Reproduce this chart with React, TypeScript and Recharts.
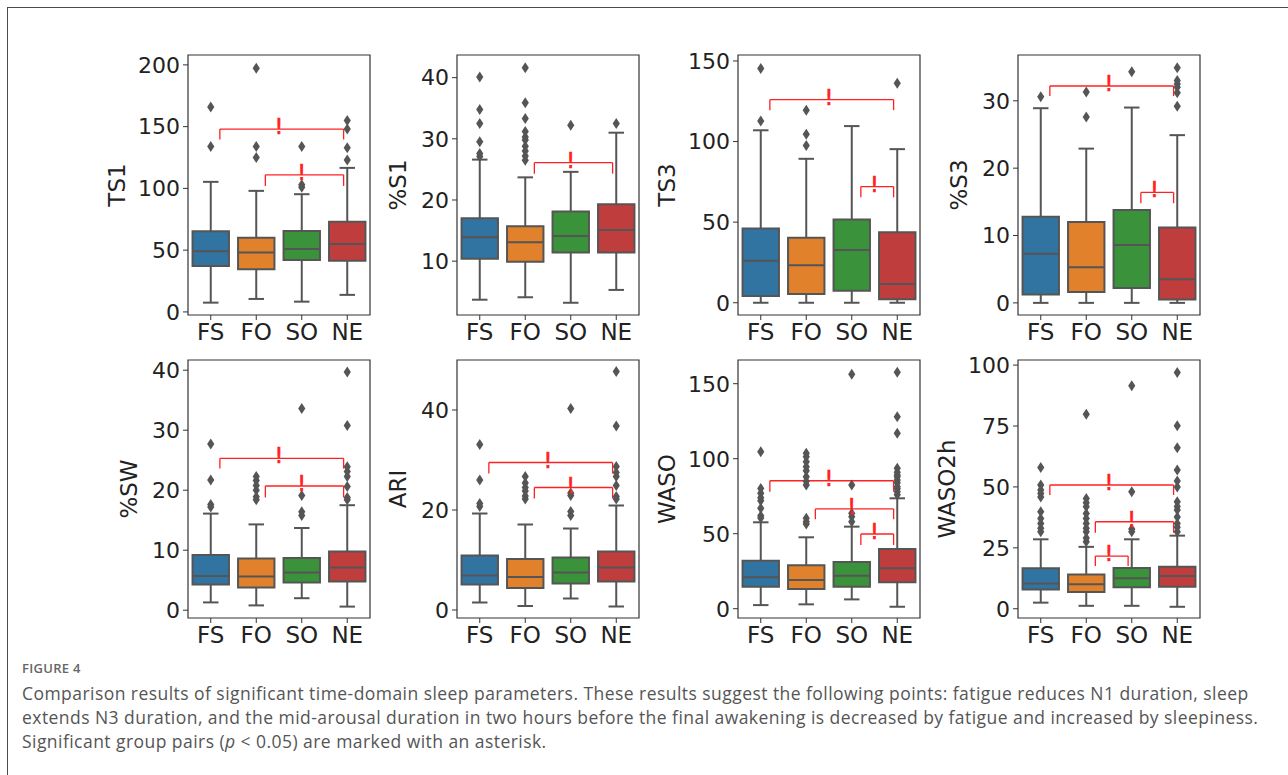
import { ReferenceArea, ReferenceLine, Scatter, ScatterChart, XAxis, YAxis } from "recharts";

const groups = ["FS", "FO", "SO", "NE"];
const groupColors = ["#3274a1", "#e1812c", "#3a923a", "#c03d3e"];

type Bracket = { from: number; to: number; y: number; drop: number };

// stats per group: [whisker low, q1, median, q3, whisker high]
const ts1Ticks = [0, 50, 100, 150, 200];
const ts1Domain: [number, number] = [-2.5, 208];
const ts1Stats = [
  [7.5, 37.2, 49.1, 65.3, 105.3],
  [10.5, 34.5, 48, 60, 98],
  [8.3, 42, 51, 65.6, 95.3],
  [13.8, 41.5, 55, 73, 116.6],
];
const ts1Outliers = [[133.9, 166], [125, 134, 197.3], [101, 103, 134], [123, 133, 148, 155]];
const ts1Brackets: Bracket[] = [
  { from: 0, to: 3, y: 148, drop: 8.4 },
  { from: 1, to: 3, y: 111, drop: 9 },
];

const s1Ticks = [10, 20, 30, 40];
const s1Domain: [number, number] = [1.2, 43.7];
const s1Stats = [
  [3.7, 10.4, 13.9, 17.0, 26.6],
  [4.1, 9.9, 13.1, 15.7, 23.7],
  [3.2, 11.4, 14.1, 18.1, 24.6],
  [5.3, 11.4, 15.1, 19.3, 31.0],
];
const s1Outliers = [
  [27.1, 27.6, 29.5, 32.5, 34.8, 40.1],
  [26.5, 27.2, 28.0, 28.8, 29.8, 30.3, 31.2, 33.3, 35.9, 41.6],
  [32.2],
  [32.5],
];
const s1Brackets: Bracket[] = [{ from: 1, to: 3, y: 26.1, drop: 1.8 }];

const ts3Ticks = [0, 50, 100, 150];
const ts3Domain: [number, number] = [-7.6, 153.7];
const ts3Stats = [
  [0, 4.2, 26.1, 46.1, 107],
  [0, 5.4, 23.2, 40.3, 89.3],
  [0, 7.4, 32.7, 51.7, 109.6],
  [0, 2.1, 11.6, 43.7, 95.3],
];
const ts3Outliers = [[112.7, 145.4], [97.6, 104.6, 119.5], [], [136.1]];
const ts3Brackets: Bracket[] = [
  { from: 0, to: 3, y: 126, drop: 6.5 },
  { from: 2, to: 3, y: 72.1, drop: 6.7 },
];

const s3Ticks = [0, 10, 20, 30];
const s3Domain: [number, number] = [-1.8, 36.8];
const s3Stats = [
  [0, 1.25, 7.3, 12.8, 28.9],
  [0, 1.6, 5.3, 12.0, 22.9],
  [0, 2.2, 8.6, 13.8, 29.0],
  [0, 0.5, 3.5, 11.2, 24.9],
];
const s3Outliers = [[30.6], [27.6, 31.3], [34.3], [29.2, 31.2, 32.0, 32.5, 33.0, 34.9]];
const s3Brackets: Bracket[] = [
  { from: 0, to: 3, y: 32.2, drop: 1.5 },
  { from: 2, to: 3, y: 16.4, drop: 1.6 },
];

const swTicks = [0, 10, 20, 30, 40];
const swDomain: [number, number] = [-1.3, 41.7];
const swStats = [
  [1.3, 4.3, 5.7, 9.2, 16.1],
  [0.8, 3.8, 5.6, 8.6, 14.3],
  [2.0, 4.6, 6.3, 8.7, 13.7],
  [0.6, 4.8, 7.1, 9.8, 17.5],
];
const swOutliers = [
  [17.2, 17.6, 21.7, 27.7],
  [18.4, 18.9, 20.0, 20.8, 21.6, 22.3],
  [15.8, 16.4, 19.1, 33.6],
  [18.4, 18.8, 20.6, 22.3, 23.1, 23.9, 30.8, 39.7],
];
const swBrackets: Bracket[] = [
  { from: 0, to: 3, y: 25.3, drop: 1.7 },
  { from: 1, to: 3, y: 20.7, drop: 1.9 },
];

const ariTicks = [0, 20, 40];
const ariDomain: [number, number] = [-1.6, 50];
const ariStats = [
  [1.5, 5.1, 6.9, 10.9, 19.3],
  [0.8, 4.4, 6.6, 10.2, 17.1],
  [2.3, 5.3, 7.5, 10.5, 16.3],
  [0.7, 5.7, 8.5, 11.7, 20.9],
];
const ariOutliers = [
  [20.7, 21.3, 26.0, 33.1],
  [22.2, 22.8, 23.8, 24.5, 25.4, 26.7],
  [18.9, 19.7, 22.9, 23.4, 40.3],
  [22.2, 22.7, 24.9, 26.7, 27.5, 28.7, 36.8, 47.7],
];
const ariBrackets: Bracket[] = [
  { from: 0, to: 3, y: 29.5, drop: 2.2 },
  { from: 1, to: 3, y: 24.5, drop: 2.2 },
];

const wasoTicks = [0, 50, 100, 150];
const wasoDomain: [number, number] = [-6.2, 165.8];
const wasoStats = [
  [2.4, 14.7, 20.9, 32.0, 57.6],
  [2.9, 13.1, 19.1, 28.9, 47.6],
  [6.2, 14.7, 22.0, 31.1, 54.7],
  [1.3, 17.6, 26.9, 39.8, 73.6],
];
const wasoOutliers = [
  [60.5, 62, 66.9, 72, 74, 76.9, 80.2, 104.7],
  [56.5, 58, 60.3, 82.5, 85, 88, 92, 94.7, 98, 101.3, 103.6],
  [58, 61.3, 63.6, 82.5, 156.3],
  [76, 78, 80, 81.3, 84, 85.8, 88, 89.1, 91, 93.6, 116.9, 128, 157.6],
];
const wasoBrackets: Bracket[] = [
  { from: 0, to: 3, y: 85.3, drop: 7.3 },
  { from: 1, to: 3, y: 66.5, drop: 6.9 },
  { from: 2, to: 3, y: 49.8, drop: 7.3 },
];

const waso2hTicks = [0, 25, 50, 75, 100];
const waso2hDomain: [number, number] = [-3.8, 102.1];
const waso2hStats = [
  [2.5, 7.9, 10.4, 16.6, 28.5],
  [1.2, 6.9, 10.1, 14.1, 25.4],
  [1.2, 8.8, 12.5, 16.7, 28.5],
  [0.8, 9.0, 13.4, 17.2, 30],
];
const waso2hOutliers = [
  [31.6, 33, 35, 37, 39.8, 45.9, 47.3, 48.7, 50.8, 58],
  [27.5, 29, 31.6, 33, 35, 37, 39.1, 41.9, 43.5, 45.3, 79.8],
  [31.6, 32.7, 48, 91.5],
  [31.6, 33.5, 35, 37.7, 40.5, 42, 43.9, 50, 52.4, 56.9, 66.1, 75.1, 97],
];
const waso2hBrackets: Bracket[] = [
  { from: 0, to: 3, y: 50.8, drop: 4.1 },
  { from: 1, to: 3, y: 35.7, drop: 4.5 },
  { from: 1, to: 2, y: 21.6, drop: 4.1 },
];

type Panel = {
  label: string;
  ticks: number[];
  domain: [number, number];
  stats: number[][];
  outliers: number[][];
  brackets: Bracket[];
};

const panels: Panel[] = [
  { label: "TS1", ticks: ts1Ticks, domain: ts1Domain, stats: ts1Stats, outliers: ts1Outliers, brackets: ts1Brackets },
  { label: "%S1", ticks: s1Ticks, domain: s1Domain, stats: s1Stats, outliers: s1Outliers, brackets: s1Brackets },
  { label: "TS3", ticks: ts3Ticks, domain: ts3Domain, stats: ts3Stats, outliers: ts3Outliers, brackets: ts3Brackets },
  { label: "%S3", ticks: s3Ticks, domain: s3Domain, stats: s3Stats, outliers: s3Outliers, brackets: s3Brackets },
  { label: "%SW", ticks: swTicks, domain: swDomain, stats: swStats, outliers: swOutliers, brackets: swBrackets },
  { label: "ARI", ticks: ariTicks, domain: ariDomain, stats: ariStats, outliers: ariOutliers, brackets: ariBrackets },
  { label: "WASO", ticks: wasoTicks, domain: wasoDomain, stats: wasoStats, outliers: wasoOutliers, brackets: wasoBrackets },
  { label: "WASO2h", ticks: waso2hTicks, domain: waso2hDomain, stats: waso2hStats, outliers: waso2hOutliers, brackets: waso2hBrackets },
];

const FONT = "'DejaVu Sans', sans-serif";
const CAPTION_FONT = "'Open Sans', sans-serif";
const FRAME = "#333";
const BOX_LINE = "#555";
const SIG = "#ff2020";

const PLOT_W = 182;
const AXIS_W = 80;
const X_AXIS_H = 45;
const PAD = 6;
const colLefts = [188, 457, 738, 1018];
const rowTops = [55, 360];
const rowHeights = [260, 258];

function Diamond(props: any) {
  const { cx, cy } = props;
  if (cx == null || cy == null) return null;
  return (
    <polygon
      points={`${cx},${cy - 5.5} ${cx + 3.6},${cy} ${cx},${cy + 5.5} ${cx - 3.6},${cy}`}
      fill="#555"
    />
  );
}

function Bang(props: any) {
  const { cx, cy } = props;
  if (cx == null || cy == null) return null;
  return (
    <text
      x={cx}
      y={cy + 5}
      textAnchor="middle"
      fill={SIG}
      stroke={SIG}
      strokeWidth={0.6}
      fontSize={22}
      fontFamily={FONT}
    >
      !
    </text>
  );
}

function BoxPanel({ panel, left, top, height }: { panel: Panel; left: number; top: number; height: number }) {
  const chartW = AXIS_W + PLOT_W + PAD;
  const chartH = PAD + height + X_AXIS_H;
  const outlierData = panel.outliers.flatMap((vals, i) => vals.map((v) => ({ x: i, y: v })));
  const legs = panel.brackets.map((b) => ({ ...b, x1: b.from + 0.2, x2: b.to - 0.08 }));
  const markData = legs.map((b) => ({ x: (b.x1 + b.x2) / 2 - 0.06, y: b.y }));
  const tickStyle = { fill: "#222", fontSize: 22, fontFamily: FONT };

  return (
    <div style={{ position: "absolute", left: left - AXIS_W, top: top - PAD }}>
      <ScatterChart width={chartW} height={chartH} margin={{ top: PAD, right: PAD, bottom: 0, left: 0 }}>
        <XAxis
          type="number"
          dataKey="x"
          domain={[-0.5, 3.5]}
          ticks={[0, 1, 2, 3]}
          interval={0}
          allowDataOverflow
          tickFormatter={(v: number) => groups[v]}
          axisLine={false}
          tickLine={{ stroke: FRAME }}
          tickSize={5}
          tickMargin={4}
          height={X_AXIS_H}
          tick={{ ...tickStyle, fontSize: 23 }}
        />
        <YAxis
          type="number"
          dataKey="y"
          domain={panel.domain}
          ticks={panel.ticks}
          interval={0}
          allowDataOverflow
          width={AXIS_W}
          axisLine={false}
          tickLine={{ stroke: FRAME }}
          tickSize={5}
          tickMargin={3}
          tick={tickStyle}
        />
        {panel.stats.map((s, i) => (
          <ReferenceLine key={`wl${i}`} segment={[{ x: i, y: s[0] }, { x: i, y: s[1] }]} stroke={BOX_LINE} strokeWidth={2} />
        ))}
        {panel.stats.map((s, i) => (
          <ReferenceLine key={`wh${i}`} segment={[{ x: i, y: s[3] }, { x: i, y: s[4] }]} stroke={BOX_LINE} strokeWidth={2} />
        ))}
        {panel.stats.map((s, i) => (
          <ReferenceLine key={`cl${i}`} segment={[{ x: i - 0.17, y: s[0] }, { x: i + 0.17, y: s[0] }]} stroke={BOX_LINE} strokeWidth={2} />
        ))}
        {panel.stats.map((s, i) => (
          <ReferenceLine key={`ch${i}`} segment={[{ x: i - 0.17, y: s[4] }, { x: i + 0.17, y: s[4] }]} stroke={BOX_LINE} strokeWidth={2} />
        ))}
        {panel.stats.map((s, i) => (
          <ReferenceArea
            key={`b${i}`}
            x1={i - 0.4}
            x2={i + 0.4}
            y1={s[1]}
            y2={s[3]}
            fill={groupColors[i]}
            fillOpacity={1}
            stroke={BOX_LINE}
            strokeWidth={2}
          />
        ))}
        {panel.stats.map((s, i) => (
          <ReferenceLine key={`m${i}`} segment={[{ x: i - 0.4, y: s[2] }, { x: i + 0.4, y: s[2] }]} stroke={BOX_LINE} strokeWidth={2} />
        ))}
        <Scatter data={outlierData} shape={(p: any) => <Diamond {...p} />} isAnimationActive={false} />
        {legs.map((b, k) => (
          <ReferenceLine key={`bh${k}`} segment={[{ x: b.x1, y: b.y }, { x: b.x2, y: b.y }]} stroke={SIG} strokeWidth={1.3} />
        ))}
        {legs.map((b, k) => (
          <ReferenceLine key={`bl${k}`} segment={[{ x: b.x1, y: b.y }, { x: b.x1, y: b.y - b.drop }]} stroke={SIG} strokeWidth={1.3} />
        ))}
        {legs.map((b, k) => (
          <ReferenceLine key={`br${k}`} segment={[{ x: b.x2, y: b.y }, { x: b.x2, y: b.y - b.drop }]} stroke={SIG} strokeWidth={1.3} />
        ))}
        <Scatter data={markData} shape={(p: any) => <Bang {...p} />} isAnimationActive={false} />
        <ReferenceArea
          x1={-0.5}
          x2={3.5}
          y1={panel.domain[0]}
          y2={panel.domain[1]}
          fill="none"
          fillOpacity={0}
          stroke={FRAME}
          strokeWidth={1.2}
        />
      </ScatterChart>
    </div>
  );
}

export default function App() {
  return (
    <div
      style={{
        position: "relative",
        width: 1288,
        height: 775,
        margin: -8,
        overflow: "hidden",
        background: "#fff",
      }}
    >
      {panels.map((panel, idx) => {
        const row = Math.floor(idx / 4);
        const col = idx % 4;
        const left = colLefts[col];
        const top = rowTops[row];
        const height = rowHeights[row];
        const wideTicks = panel.ticks[panel.ticks.length - 1] >= 100;
        const labelX = left - (wideTicks ? 71 : 59);
        return (
          <div key={panel.label}>
            <BoxPanel panel={panel} left={left} top={top} height={height} />
            <div
              style={{
                position: "absolute",
                left: labelX,
                top: top + height / 2,
                transform: "translate(-50%, -50%) rotate(-90deg)",
                fontFamily: FONT,
                fontSize: 23,
                color: "#222",
                whiteSpace: "nowrap",
              }}
            >
              {panel.label}
            </div>
          </div>
        );
      })}
      <div
        style={{
          position: "absolute",
          left: 22,
          top: 659,
          fontFamily: CAPTION_FONT,
          fontSize: 13,
          fontWeight: 600,
          color: "#666",
          letterSpacing: 0.3,
        }}
      >
        FIGURE 4
      </div>
      <div
        style={{
          position: "absolute",
          left: 22,
          top: 681,
          fontFamily: CAPTION_FONT,
          fontSize: 17.5,
          letterSpacing: 0.45,
          lineHeight: "24px",
          color: "#555",
          whiteSpace: "nowrap",
        }}
      >
        <div>
          Comparison results of significant time-domain sleep parameters. These results suggest the following points: fatigue reduces N1 duration, sleep
        </div>
        <div>
          extends N3 duration, and the mid-arousal duration in two hours before the final awakening is decreased by fatigue and increased by sleepiness.
        </div>
        <div>
          Significant group pairs (<i>p</i> &lt; 0.05) are marked with an asterisk.
        </div>
      </div>
      <div
        style={{
          position: "fixed",
          left: 7,
          top: 7,
          width: 1400,
          height: 900,
          borderTop: "1px solid #4a4a4a",
          borderLeft: "1px solid #4a4a4a",
          zIndex: 10,
          pointerEvents: "none",
        }}
      />
    </div>
  );
}
